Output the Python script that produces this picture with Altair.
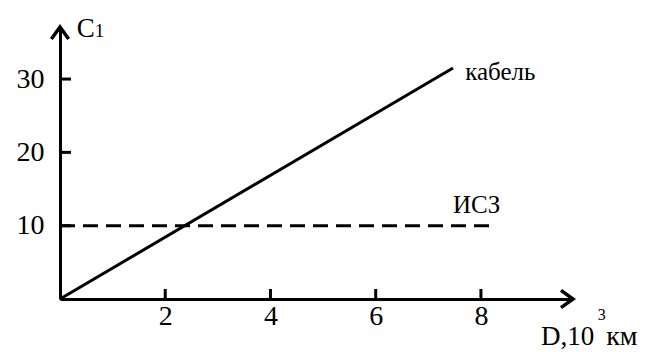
import altair as alt
import pandas as pd

# Cost of one channel (C1) versus link distance (D, thousands of km)
cable_d = [0, 7.47]
cable_c = [0, 31.5]
sat_d = [0, 8.21]
sat_c = [10, 10]

x_tick_values = [2, 4, 6, 8]
y_tick_values = [10, 20, 30]

# axis extents (where the arrow heads sit)
X_END = 9.75
Y_END = 37.1

FONT = "Liberation Serif"
W, H = 513, 272

cable = pd.DataFrame({"D": cable_d, "C": cable_c})
sat = pd.DataFrame({"D": sat_d, "C": sat_c})
xt = pd.DataFrame({"D": x_tick_values})
yt = pd.DataFrame({"C": y_tick_values})

xs = alt.Scale(domain=[0, X_END], nice=False, zero=False)
ys = alt.Scale(domain=[0, Y_END], nice=False, zero=False)

x_axis = alt.Axis(values=x_tick_values, ticks=False, grid=False, domain=True,
                  domainColor="black", domainWidth=3, labelFont=FONT,
                  labelFontSize=28, labelColor="black", labelPadding=3,
                  title=None, labelOverlap=False)
y_axis = alt.Axis(values=y_tick_values, ticks=False, grid=False, domain=True,
                  domainColor="black", domainWidth=3, labelFont=FONT,
                  labelFontSize=28, labelColor="black", labelPadding=16,
                  title=None, labelOverlap=False)

cable_line = alt.Chart(cable).mark_line(color="black", strokeWidth=3).encode(
    x=alt.X("D:Q", scale=xs, axis=x_axis),
    y=alt.Y("C:Q", scale=ys, axis=y_axis),
)

sat_line = alt.Chart(sat).mark_line(color="black", strokeWidth=3,
                                    strokeDash=[15, 8]).encode(
    x=alt.X("D:Q", scale=xs), y=alt.Y("C:Q", scale=ys))

x_ticks = alt.Chart(xt).mark_rule(color="black", strokeWidth=3).encode(
    x=alt.X("D:Q", scale=xs), y=alt.value(H), y2=alt.value(H - 10))
y_ticks = alt.Chart(yt).mark_rule(color="black", strokeWidth=3).encode(
    y=alt.Y("C:Q", scale=ys), x=alt.value(0), x2=alt.value(11))

# open arrow heads at the ends of both axes
arrow_x = alt.Chart(pd.DataFrame({"D": [X_END], "C": [0]})).mark_point(
    shape="M-1,-0.72L0,0L-1,0.72", size=576, filled=False, color="black",
    strokeWidth=3.5, opacity=1).encode(
    x=alt.X("D:Q", scale=xs), y=alt.Y("C:Q", scale=ys))
arrow_y = alt.Chart(pd.DataFrame({"D": [0], "C": [Y_END]})).mark_point(
    shape="M-0.72,1L0,0L0.72,1", size=576, filled=False, color="black",
    strokeWidth=3.5, opacity=1).encode(
    x=alt.X("D:Q", scale=xs), y=alt.Y("C:Q", scale=ys))


def label(text, d, c, size):
    return alt.Chart(pd.DataFrame({"D": [d], "C": [c], "t": [text]})).mark_text(
        font=FONT, fontSize=size, color="black", align="left",
        baseline="alphabetic").encode(
        x=alt.X("D:Q", scale=xs), y=alt.Y("C:Q", scale=ys), text="t:N")


labels = [
    label("кабель", 7.70, 29.9, 25),
    label("ИСЗ", 7.47, 11.7, 25),
    label("C", 0.32, 35.74, 27),
    label("1", 0.66, 35.74, 19),
    label("D,10", 9.14, -6.28, 27),
    label("3", 10.22, -2.86, 16),
    label("км", 10.38, -6.28, 28),
]

chart = alt.layer(cable_line, sat_line, x_ticks, y_ticks, arrow_x, arrow_y,
                  *labels).properties(
    width=W, height=H,
    autosize=alt.AutoSizeParams(type="none"),
    padding={"left": 60, "top": 27, "right": 78, "bottom": 53},
    background="white",
).configure_view(stroke=None)

chart.save("out.html", embed_options={"renderer": "svg", "actions": False})
